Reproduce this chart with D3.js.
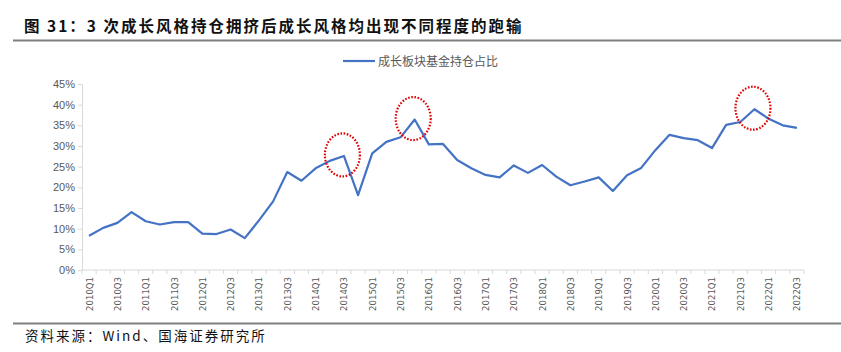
<!DOCTYPE html>
<html>
<head>
<meta charset="utf-8">
<script src="https://cdn.jsdelivr.net/npm/d3@7"></script>
<style>
    body { margin: 0; background: #fff; }
    svg { display: block; }
</style>
</head>
<body>
<div id="chart"></div>
<script>
// quarters on the x axis
const quarters = [
    "2010Q1", "2010Q2", "2010Q3", "2010Q4", "2011Q1", "2011Q2", "2011Q3", "2011Q4",
    "2012Q1", "2012Q2", "2012Q3", "2012Q4", "2013Q1", "2013Q2", "2013Q3", "2013Q4",
    "2014Q1", "2014Q2", "2014Q3", "2014Q4", "2015Q1", "2015Q2", "2015Q3", "2015Q4",
    "2016Q1", "2016Q2", "2016Q3", "2016Q4", "2017Q1", "2017Q2", "2017Q3", "2017Q4",
    "2018Q1", "2018Q2", "2018Q3", "2018Q4", "2019Q1", "2019Q2", "2019Q3", "2019Q4",
    "2020Q1", "2020Q2", "2020Q3", "2020Q4", "2021Q1", "2021Q2", "2021Q3", "2021Q4",
    "2022Q1", "2022Q2", "2022Q3"
];

// 成长板块基金持仓占比 (%)
const growthShare = [
    8.3, 10.2, 11.4, 14.0, 11.8, 11.0, 11.6, 11.6,
    8.8, 8.7, 9.8, 7.7, 12.0, 16.6, 23.7, 21.6,
    24.6, 26.4, 27.6, 18.1, 28.2, 31.0, 32.1, 36.4,
    30.4, 30.5, 26.6, 24.6, 23.0, 22.4, 25.3, 23.5,
    25.4, 22.6, 20.5, 21.4, 22.4, 19.1, 22.9, 24.7,
    29.0, 32.7, 31.9, 31.4, 29.5, 35.1, 35.8, 38.9,
    36.6, 35.0, 34.4
];

const yTicks = [0, 5, 10, 15, 20, 25, 30, 35, 40, 45];

// crowded peaks that get a red dotted circle
const peaks = ["2014Q3", "2015Q4", "2021Q4"];

const seriesName = "成长板块基金持仓占比";
const titleText = "图 31：3 次成长风格持仓拥挤后成长风格均出现不同程度的跑输";
const sourceText = "资料来源：Wind、国海证券研究所";

const W = 841, H = 352;
const margin = { top: 84, right: 37, bottom: 82, left: 82 };
const width = W - margin.left - margin.right;
const height = H - margin.top - margin.bottom;

const cjk = "'Noto Sans CJK SC', 'Noto Sans', sans-serif";
const gray = "#595959";
const axisColor = "#d9d9d9";

const svg = d3.select("#chart").append("svg")
    .attr("width", W)
    .attr("height", H);

// title + rule
svg.append("text")
    .attr("x", 24)
    .attr("y", 32)
    .attr("font-family", cjk)
    .attr("font-size", "15.5px")
    .attr("font-weight", "bold")
    .attr("letter-spacing", "2px")
    .attr("fill", "#111")
    .text(titleText);

svg.append("line")
    .attr("x1", 13).attr("x2", W)
    .attr("y1", 40.5).attr("y2", 40.5)
    .attr("stroke", "#7f7f7f")
    .attr("stroke-width", 2);

// footer rule + source
svg.append("line")
    .attr("x1", 13).attr("x2", W)
    .attr("y1", 323.5).attr("y2", 323.5)
    .attr("stroke", "#7f7f7f")
    .attr("stroke-width", 2);

svg.append("text")
    .attr("x", 25)
    .attr("y", 341)
    .attr("font-family", cjk)
    .attr("font-size", "13.5px")
    .attr("letter-spacing", "2px")
    .attr("fill", "#111")
    .text(sourceText);

const g = svg.append("g")
    .attr("transform", `translate(${margin.left},${margin.top})`);

// scales
const x = d3.scaleBand().domain(quarters).range([0, width]);
const y = d3.scaleLinear().domain([0, 45]).range([height, 0]);
const cx = d => x(d) + x.bandwidth() / 2;

// y axis
const yAxis = d3.axisLeft(y)
    .tickValues(yTicks)
    .tickSize(4)
    .tickPadding(3)
    .tickFormat(d => d + "%");

const yAxisGroup = g.append("g").call(yAxis);
yAxisGroup.select(".domain").attr("stroke", axisColor);
yAxisGroup.selectAll(".tick line").attr("stroke", axisColor);
yAxisGroup.selectAll(".tick text")
    .attr("fill", gray)
    .attr("font-family", "'Liberation Sans', Arial, sans-serif")
    .attr("font-size", "11px");

// x axis: line, boundary ticks, every other label rotated
const xAxisGroup = g.append("g").attr("transform", `translate(0,${height})`);

xAxisGroup.append("line")
    .attr("x1", 0).attr("x2", width)
    .attr("stroke", axisColor);

xAxisGroup.selectAll(".bound")
    .data(quarters.concat(["end"]))
    .enter().append("line")
    .attr("class", "bound")
    .attr("x1", (d, i) => i < quarters.length ? x(d) : width)
    .attr("x2", (d, i) => i < quarters.length ? x(d) : width)
    .attr("y1", 0).attr("y2", 4)
    .attr("stroke", axisColor);

xAxisGroup.selectAll(".qlabel")
    .data(quarters.filter((d, i) => i % 2 === 0))
    .enter().append("text")
    .attr("class", "qlabel")
    .attr("transform", d => `translate(${cx(d) + 3.5},7) rotate(-90)`)
    .attr("text-anchor", "end")
    .attr("fill", gray)
    .attr("font-family", "'Liberation Sans Narrow', 'DejaVu Sans Condensed', sans-serif")
    .attr("font-size", "9.5px")
    .text(d => d);

// line
const line = d3.line()
    .x((d, i) => cx(quarters[i]))
    .y(d => y(d));

g.append("path")
    .datum(growthShare)
    .attr("fill", "none")
    .attr("stroke", "#4472c4")
    .attr("stroke-width", 2.2)
    .attr("stroke-linejoin", "round")
    .attr("d", line);

// red dotted circles round the peaks
g.selectAll(".peak")
    .data(peaks)
    .enter().append("ellipse")
    .attr("class", "peak")
    .attr("cx", d => cx(d) - 1.5)
    .attr("cy", d => y(growthShare[quarters.indexOf(d)]) - 1)
    .attr("rx", 17.5)
    .attr("ry", 21.5)
    .attr("fill", "none")
    .attr("stroke", "#e00000")
    .attr("stroke-width", 2.2)
    .attr("stroke-dasharray", "1.6,1.6");

// legend
const legend = svg.append("g").attr("transform", "translate(343,61)");
legend.append("line")
    .attr("x1", 0).attr("x2", 32)
    .attr("stroke", "#4472c4")
    .attr("stroke-width", 2.2);
legend.append("text")
    .attr("x", 35)
    .attr("y", 4.5)
    .attr("font-family", cjk)
    .attr("font-size", "12px")
    .attr("fill", gray)
    .text(seriesName);
</script>
</body>
</html>
